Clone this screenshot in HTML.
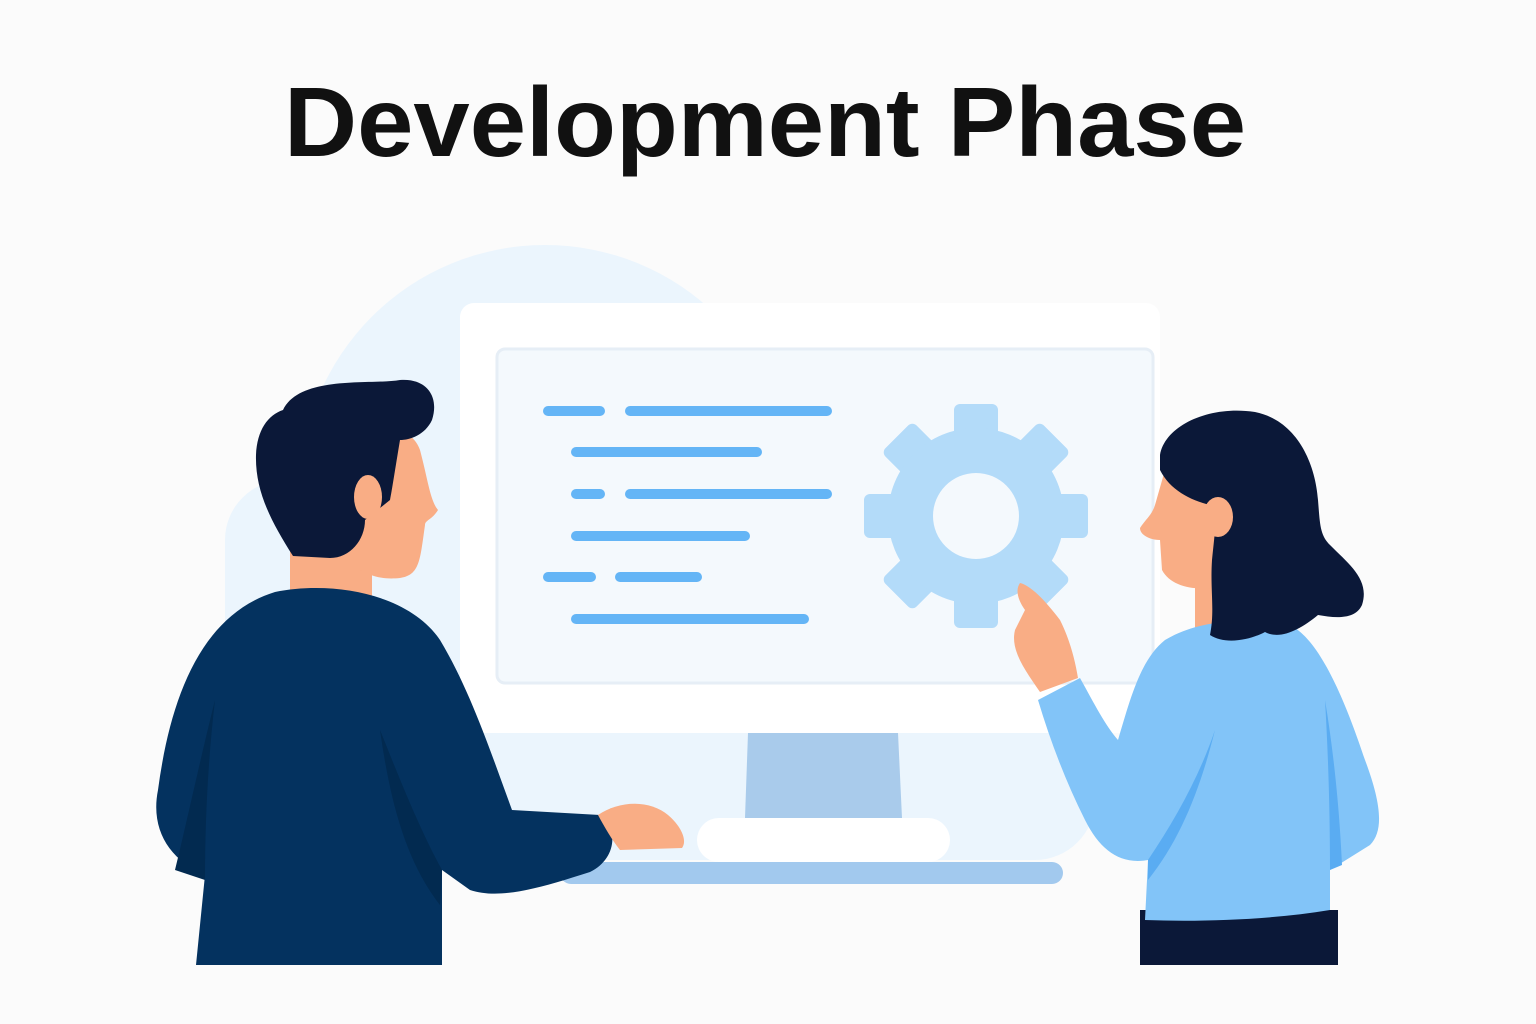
<!DOCTYPE html>
<html><head><meta charset="utf-8"><style>
html,body{margin:0;padding:0;background:#fbfbfb;}
svg{display:block;}
</style></head><body>
<svg width="1536" height="1024" viewBox="0 0 1536 1024" xmlns="http://www.w3.org/2000/svg">
<rect width="1536" height="1024" fill="#fbfbfb"/>
<text x="765" y="156" text-anchor="middle" font-family="Liberation Sans, sans-serif" font-weight="bold" font-size="98" textLength="962" lengthAdjust="spacingAndGlyphs" fill="#111">Development Phase</text>

<g fill="#ebf5fd">
<circle cx="545" cy="490" r="245"/>
<rect x="225" y="480" width="870" height="380" rx="60"/>
</g>

<g>
<rect x="460" y="303" width="700" height="430" rx="14" fill="#ffffff"/>
<rect x="497" y="349" width="656" height="334" rx="8" fill="#f4f9fd" stroke="#e6eef6" stroke-width="3"/>
<path d="M748 733 L898 733 L902 818 L745 818 Z" fill="#a9cbeb"/>
<rect x="697" y="818" width="253" height="44" rx="22" fill="#ffffff"/>
<rect x="560" y="862" width="503" height="22" rx="11" fill="#a2c9ee"/>
<g id="code"></g>
<g id="gear" fill="#b3dbf9"></g>
</g>

<g>
<rect x="290" y="530" width="82" height="80" fill="#f9ad85"/>
<path d="M196 965 L205 875 C170 860 150 830 158 790 C170 700 200 615 275 592 C335 580 410 595 440 640 C470 690 490 750 512 810 L600 815 C620 830 615 860 590 872 C540 888 500 900 470 890 L442 870 L442 965 Z" fill="#04325f"/>
<path d="M215 700 C200 760 185 830 175 870 L205 880 C205 820 208 760 215 700 Z" fill="#022a50"/>
<path d="M380 730 C390 800 405 860 440 905 L442 870 C420 830 400 780 380 730 Z" fill="#022a50"/>
<path d="M598 815 C620 800 650 800 668 815 C680 825 688 840 682 848 L620 850 C612 840 605 828 598 815 Z" fill="#f9ad85"/>
<path d="M340 440 C360 420 410 420 420 450 C428 480 430 500 438 510 C432 520 425 520 425 525 C420 560 420 575 400 578 C380 580 370 575 360 570 L330 560 Z" fill="#f9ad85"/>
<path d="M283 410 C300 375 370 385 400 380 C425 378 440 395 432 420 C425 435 410 440 400 440 C395 470 392 490 390 500 L365 520 C365 540 350 558 330 558 L293 556 C270 520 255 490 256 455 C257 430 268 415 283 410 Z" fill="#0b1838"/>
<ellipse cx="368" cy="497" rx="14" ry="22" fill="#f9ad85"/>
</g>

<g>
<rect x="1140" y="910" width="198" height="55" fill="#0b1838"/>
<rect x="1195" y="570" width="30" height="60" fill="#f9ad85"/>
<path d="M1145 920 L1148 860 C1120 865 1100 850 1085 820 C1065 780 1050 740 1038 700 L1080 678 C1095 705 1105 725 1118 740 C1130 700 1140 660 1165 640 C1190 625 1230 615 1290 625 C1320 640 1345 700 1365 760 C1380 800 1385 830 1370 845 L1330 870 L1330 910 C1270 920 1200 922 1145 920 Z" fill="#82c4f8"/>
<path d="M1215 730 C1200 790 1180 840 1148 880 L1148 860 C1175 820 1200 775 1215 730 Z" fill="#5aacf2"/>
<path d="M1325 700 C1335 760 1340 820 1342 865 L1330 870 C1330 810 1328 750 1325 700 Z" fill="#5aacf2"/>
<path d="M1040 692 C1025 670 1010 650 1015 630 L1025 610 C1018 600 1015 590 1020 583 C1030 585 1045 600 1060 620 C1070 640 1075 660 1078 678 Z" fill="#f9ad85"/>
<path d="M1165 470 C1180 450 1220 455 1230 490 C1235 530 1225 570 1210 588 C1190 590 1170 585 1162 570 L1160 540 C1150 540 1140 535 1140 528 C1145 520 1152 515 1155 505 Z" fill="#f9ad85"/>
<path d="M1160 455 C1165 425 1210 405 1255 412 C1295 420 1315 460 1318 500 C1320 525 1320 535 1330 545 C1350 565 1370 580 1362 605 C1355 620 1335 618 1318 615 C1300 630 1280 640 1265 632 C1250 640 1225 645 1210 635 C1215 610 1210 590 1212 560 C1215 530 1218 515 1210 505 C1190 500 1170 490 1160 470 Z" fill="#0b1838"/>
<ellipse cx="1218" cy="517" rx="15" ry="20" fill="#f9ad85"/>
</g>

<script>
const codeLines = [[543,605,411],[625,832,411],[571,762,452],[571,605,494],[625,832,494],[571,750,536],[543,596,577],[615,702,577],[571,809,619]];
const ns = 'http://www.w3.org/2000/svg';
const code = document.getElementById('code');
codeLines.forEach(function(l){
  const r = document.createElementNS(ns,'rect');
  r.setAttribute('x', l[0]); r.setAttribute('y', l[2]-5);
  r.setAttribute('width', l[1]-l[0]); r.setAttribute('height', 10);
  r.setAttribute('rx', 5); r.setAttribute('fill', '#64b5f6');
  
  
  code.appendChild(r);
});
const gear = document.getElementById('gear');
const cx = 976, cy = 516;
for (let i = 0; i < 8; i++) {
  const t = document.createElementNS(ns,'rect');
  t.setAttribute('x', cx-22); t.setAttribute('y', cy-112);
  t.setAttribute('width', 44); t.setAttribute('height', 50); t.setAttribute('rx', 6);
  t.setAttribute('transform', 'rotate(' + (i*45) + ' ' + cx + ' ' + cy + ')');
  
  
  gear.appendChild(t);
}
const body = document.createElementNS(ns,'circle');
body.setAttribute('cx', cx); body.setAttribute('cy', cy); body.setAttribute('r', 88);


gear.appendChild(body);
const hole = document.createElementNS(ns,'circle');
hole.setAttribute('cx', cx); hole.setAttribute('cy', cy); hole.setAttribute('r', 43);
hole.setAttribute('fill', '#f4f9fd');


gear.appendChild(hole);
</script>
</svg>
</body></html>
